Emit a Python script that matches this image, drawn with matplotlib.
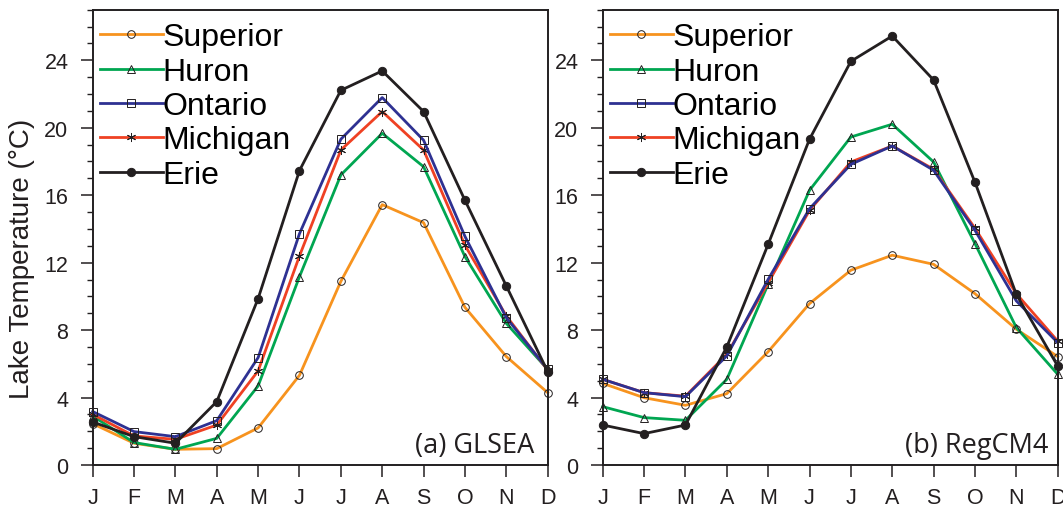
import matplotlib

matplotlib.use("Agg")
import matplotlib.pyplot as plt  # noqa: E402
from matplotlib.ticker import MultipleLocator  # noqa: E402

plt.rcParams["font.family"] = ["Liberation Sans", "DejaVu Sans"]

MONTHS = ["J", "F", "M", "A", "M", "J", "J", "A", "S", "O", "N", "D"]
LAKES = ["Superior", "Huron", "Ontario", "Michigan", "Erie"]

# (a) GLSEA observations, degC
glsea_superior = [2.45, 1.29, 0.93, 0.97, 2.2, 5.32, 10.89, 15.44, 14.37, 9.35, 6.43, 4.29]
glsea_huron = [2.9, 1.33, 0.93, 1.58, 4.69, 11.17, 17.2, 19.67, 17.69, 12.36, 8.4, 5.67]
glsea_ontario = [3.17, 1.98, 1.68, 2.63, 6.37, 13.72, 19.32, 21.79, 19.26, 13.56, 8.74, 5.67]
glsea_michigan = [3.0, 1.72, 1.52, 2.37, 5.58, 12.4, 18.68, 20.96, 18.68, 13.03, 8.84, 5.63]
glsea_erie = [2.55, 1.68, 1.29, 3.76, 9.87, 17.46, 22.22, 23.37, 20.96, 15.7, 10.62, 5.54]

# (b) RegCM4 simulation, degC
regcm_superior = [4.84, 3.99, 3.54, 4.23, 6.72, 9.57, 11.55, 12.44, 11.9, 10.16, 8.05, 6.43]
regcm_huron = [3.46, 2.81, 2.65, 5.08, 10.72, 16.29, 19.45, 20.21, 17.97, 13.13, 8.15, 5.38]
regcm_ontario = [5.08, 4.29, 4.05, 6.47, 11.01, 15.2, 17.83, 18.92, 17.48, 13.92, 9.73, 7.26]
regcm_michigan = [5.08, 4.29, 4.08, 6.56, 10.81, 15.1, 17.97, 18.92, 17.54, 14.04, 10.16, 7.35]
regcm_erie = [2.37, 1.86, 2.37, 7.0, 13.09, 19.32, 23.94, 25.44, 22.83, 16.77, 10.12, 5.87]

STYLES = {
    "Superior": dict(color="#F7931E", marker="o", mfc="none", ms=5.5),
    "Huron": dict(color="#00A651", marker="^", mfc="none", ms=5.5),
    "Ontario": dict(color="#2E3192", marker="s", mfc="none", ms=5.5),
    "Michigan": dict(color="#EF4123", marker=(6, 2, 0), mfc="none", ms=6.5),
    "Erie": dict(color="#231F20", marker="o", mfc="#231F20", ms=6),
}
PLOT_ORDER = ["Superior", "Huron", "Michigan", "Ontario", "Erie"]


def draw_panel(ax, series, label, label_x):
    x = range(len(MONTHS))
    handles = {}
    for lake in PLOT_ORDER:
        st = STYLES[lake]
        (line,) = ax.plot(
            x,
            series[lake],
            color=st["color"],
            lw=2.0,
            marker=st["marker"],
            ms=st["ms"],
            mfc=st["mfc"],
            mec="#231F20",
            mew=0.7,
            clip_on=False,
            label=lake,
        )
        handles[lake] = line

    ax.set_xlim(0, 11)
    ax.set_ylim(0, 27)
    ax.set_xticks(list(x))
    ax.set_xticklabels(MONTHS)
    ax.yaxis.set_major_locator(MultipleLocator(4))
    ax.yaxis.set_minor_locator(MultipleLocator(1))
    ax.tick_params(axis="both", which="major", direction="out", length=8.5,
                   width=1.1, labelsize=15.5, colors="#231F20")
    ax.tick_params(axis="y", which="major", pad=9)
    ax.tick_params(axis="x", which="major", pad=7)
    ax.tick_params(axis="y", which="minor", direction="out", length=4, width=1.0,
                   colors="#231F20")
    for sp in ax.spines.values():
        sp.set_linewidth(1.4)
        sp.set_color("#231F20")

    ax.legend(
        [handles[k] for k in LAKES],
        LAKES,
        loc="upper left",
        bbox_to_anchor=(0.015, 0.972),
        frameon=False,
        fontsize=23,
        handlelength=1.98,
        handletextpad=0.0,
        labelspacing=0.135,
        borderaxespad=0.0,
        borderpad=0.0,
    )

    ax.text(label_x, 0.028, label, transform=ax.transAxes, ha="right",
            va="baseline", fontsize=19.5, family=["Open Sans", "DejaVu Sans"],
            color="#231F20")


fig = plt.figure(figsize=(10.63, 5.10), dpi=100)
ax1 = fig.add_axes([0.0872, 0.0863, 0.428, 0.8927])
ax2 = fig.add_axes([0.567, 0.0863, 0.428, 0.8927])

draw_panel(ax1, {"Superior": glsea_superior, "Huron": glsea_huron,
                 "Ontario": glsea_ontario, "Michigan": glsea_michigan,
                 "Erie": glsea_erie}, "(a) GLSEA", 0.970)
draw_panel(ax2, {"Superior": regcm_superior, "Huron": regcm_huron,
                 "Ontario": regcm_ontario, "Michigan": regcm_michigan,
                 "Erie": regcm_erie}, "(b) RegCM4", 0.979)

ax1.set_ylabel("Lake Temperature (°C)", fontsize=20, color="#231F20",
               va="center")
ax1.yaxis.set_label_coords(-0.155, 0.455)

fig.savefig("out.png", dpi=100)
